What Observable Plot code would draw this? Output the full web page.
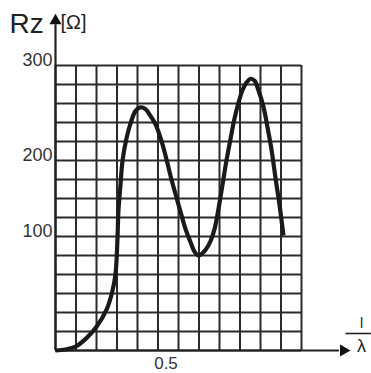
<!DOCTYPE html>
<html><head><meta charset="utf-8">
<script src="https://cdn.jsdelivr.net/npm/d3@7"></script>
<script src="https://cdn.jsdelivr.net/npm/@observablehq/plot@0.6"></script>
<style>body{margin:0;background:#fff;} svg{display:block;}</style>
</head><body><div id="chart"></div>
<script>
// Curve readings: l/λ (x) and Rz in Ω (y)
const curveX = [0, 0.049, 0.098, 0.151, 0.2, 0.249, 0.278, 0.293, 0.302, 0.307, 0.317, 0.327, 0.346, 0.366, 0.39, 0.415, 0.439, 0.463,
  0.488, 0.512, 0.537, 0.561, 0.585, 0.61, 0.634, 0.659, 0.678, 0.698,
  0.732, 0.756, 0.776, 0.795, 0.815, 0.834, 0.854, 0.873, 0.893, 0.912, 0.932, 0.951, 0.971, 0.99, 1.015, 1.034, 1.054, 1.073, 1.093, 1.112];
const curveY = [0, 1, 4, 13, 25, 43, 63, 81, 116, 147, 174, 200, 223, 239, 252, 256, 254, 247,
  238, 224, 205, 184, 165, 146, 128, 114, 104, 100,
  106, 115, 128, 149, 175, 200, 223, 244, 261, 274, 282, 286, 284, 274, 256, 235, 211, 182, 153, 121];

// Grid lines
const gridXValues = [0, 0.1, 0.2, 0.3, 0.4, 0.5, 0.6, 0.7, 0.8, 0.9, 1.0, 1.1, 1.2];
const gridYValues = [0, 20, 40, 60, 80, 100, 120, 140, 160, 180, 200, 220, 240, 260, 280, 300];

// Tick labels as printed
const yTickValues = [300, 200, 120];
const yTickLabels = ["300", "200", "100"];
const xTickValues = [0.5];
const xTickLabels = ["0.5"];

// Axis extents (arrow tips)
const yAxisTop = 347;
const xAxisEnd = 1.405;

const curve = curveX.map((x, i) => ({x, y: curveY[i]}));
const yTicks = yTickValues.map((v, i) => ({v, label: yTickLabels[i]}));
const xTicks = xTickValues.map((v, i) => ({v, label: xTickLabels[i]}));

const font = "'Liberation Sans', Arial, sans-serif";

const plot = Plot.plot({
  width: 371, height: 373,
  marginLeft: 55, marginRight: 70, marginTop: 65, marginBottom: 23,
  x: {domain: [0, 1.2], axis: null},
  y: {domain: [0, 300], axis: null},
  style: {fontFamily: font, background: "white", overflow: "visible"},
  marks: [
    Plot.ruleX(gridXValues, {y1: 0, y2: 300, stroke: "#2b2b2b", strokeWidth: 2}),
    Plot.ruleY(gridYValues, {x1: 0, x2: 1.2, stroke: "#2b2b2b", strokeWidth: 2}),
    // axes with arrows
    Plot.ruleX([0], {y1: 0, y2: yAxisTop - 4, stroke: "#222", strokeWidth: 2.2}),
    Plot.ruleY([0], {x1: 0, x2: xAxisEnd - 0.02, stroke: "#222", strokeWidth: 2.2}),
    Plot.dot([{x: 0, y: yAxisTop}], {x: "x", y: "y", symbol: "triangle", r: 4.5, fill: "#111", stroke: "none"}),
    Plot.dot([{x: xAxisEnd, y: 0}], {x: "x", y: "y", symbol: "triangle", r: 4.5, fill: "#111", stroke: "none", rotate: 90}),
    // curve
    Plot.line(curve, {x: "x", y: "y", curve: "catmull-rom", stroke: "#1a1a1a", strokeWidth: 4.2, strokeLinecap: "butt"}),
    // tick labels
    Plot.text(yTicks, {x: 0, y: "v", text: "label", textAnchor: "end", dx: -3, dy: -5, fontSize: 18, fill: "#333"}),
    Plot.text(xTicks, {x: "v", y: 0, text: "label", dx: 8, dy: 13, fontSize: 17, fill: "#333"}),
    // axis titles
    Plot.text(["Rz"], {x: 0, y: yAxisTop, textAnchor: "start", dx: -46, dy: 3, fontSize: 28, fill: "#222"}),
    Plot.text(["[Ω]"], {x: 0, y: yAxisTop, textAnchor: "start", dx: 5, dy: 2, fontSize: 20, fill: "#222"}),
    Plot.text(["l"], {x: xAxisEnd, y: 0, dx: 18, dy: -27, fontSize: 14, fill: "#222"}),
    Plot.ruleY([0], {x1: xAxisEnd + 0.012, x2: xAxisEnd + 0.136, dy: -17, stroke: "#222", strokeWidth: 1.6}),
    Plot.text(["λ"], {x: xAxisEnd, y: 0, dx: 18, dy: -4, fontSize: 18, fill: "#222"})
  ]
});
document.getElementById("chart").appendChild(plot);
</script>
</body></html>
